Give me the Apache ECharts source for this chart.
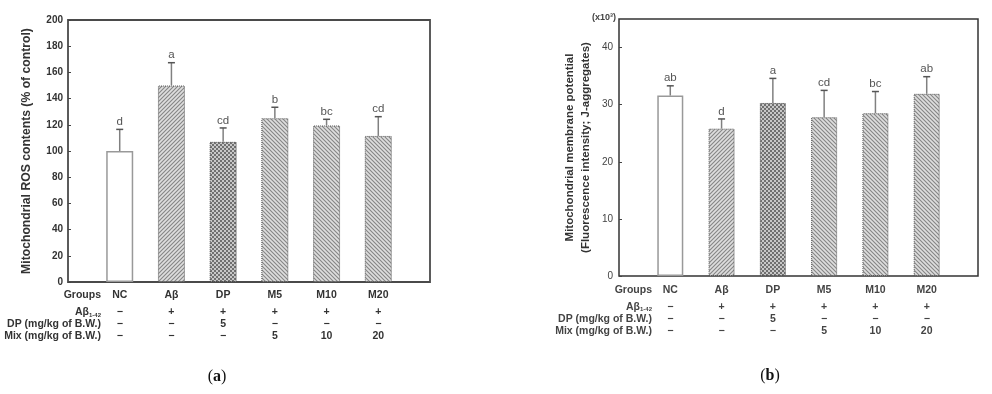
<!DOCTYPE html>
<html>
<head>
<meta charset="utf-8">
<script src="https://cdn.jsdelivr.net/npm/echarts@6/dist/echarts.min.js"></script>
<style>
html,body{margin:0;padding:0;background:#fff;}
#c{width:992px;height:394px;}
</style>
</head>
<body>
<div id="c"></div>
<script>
// ---- data ----
const groups = ['NC', 'Aβ', 'DP', 'M5', 'M10', 'M20'];
const rowAbeta = ['−', '+', '+', '+', '+', '+'];
const rowDP = ['−', '−', '5', '−', '−', '−'];
const rowMix = ['−', '−', '−', '5', '10', '20'];
const rowHeaders = ['Groups', 'Aβ1-42', 'DP (mg/kg of B.W.)', 'Mix (mg/kg of B.W.)'];

const rosMean = [100, 150, 107, 125, 119.5, 111.5];
const rosErr = [16.5, 17.4, 10.6, 8.4, 4.7, 14.7];
const rosLetters = ['d', 'a', 'cd', 'b', 'bc', 'cd'];
const rosTicks = [0, 200, 20];

const mmpMean = [31.6, 25.8, 30.3, 27.8, 28.5, 31.9];
const mmpErr = [1.7, 1.7, 4.3, 4.7, 3.8, 3.0];
const mmpLetters = ['ab', 'd', 'a', 'cd', 'bc', 'ab'];
const mmpTicks = [0, 45, 10];

// ---- patterns ----
function hatch(dir) {
  const s = 4, c = document.createElement('canvas');
  c.width = s; c.height = s;
  const g = c.getContext('2d');
  g.fillStyle = '#dedede'; g.fillRect(0, 0, s, s);
  g.strokeStyle = '#858585'; g.lineWidth = 1.1;
  g.beginPath();
  if (dir === '/') {
    g.moveTo(-1, s + 1); g.lineTo(s + 1, -1);
    g.moveTo(-1, 1); g.lineTo(1, -1);
    g.moveTo(s - 1, s + 1); g.lineTo(s + 1, s - 1);
  } else {
    g.moveTo(-1, -1); g.lineTo(s + 1, s + 1);
    g.moveTo(s - 1, -1); g.lineTo(s + 1, 1);
    g.moveTo(-1, s - 1); g.lineTo(1, s + 1);
  }
  g.stroke();
  return { image: c, repeat: 'repeat' };
}
function checker() {
  const c = document.createElement('canvas');
  c.width = 4; c.height = 4;
  const g = c.getContext('2d');
  g.fillStyle = '#c8c8c8'; g.fillRect(0, 0, 4, 4);
  g.fillStyle = '#707070'; g.fillRect(0, 0, 2, 2); g.fillRect(2, 2, 2, 2);
  return { image: c, repeat: 'repeat' };
}
const fwd = hatch('/'), back = hatch('\\'), chk = checker();
const barStyles = [
  { color: '#fff', borderColor: '#999', borderWidth: 1.5 },
  { color: fwd, borderColor: '#555', borderWidth: 1, borderType: 'dotted' },
  { color: chk, borderColor: '#444', borderWidth: 1, borderType: 'dotted' },
  { color: back, borderColor: '#555', borderWidth: 1, borderType: 'dotted' },
  { color: back, borderColor: '#555', borderWidth: 1, borderType: 'dotted' },
  { color: back, borderColor: '#555', borderWidth: 1, borderType: 'dotted' }
];

const FONT = 'Liberation Sans';
const pad = arr => [''].concat(arr, ['']);

function tableAxes(gi, offsets, gap, color) {
  const rows = [groups, rowAbeta, rowDP, rowMix];
  return rows.map((r, k) => ({
    gridIndex: gi, type: 'category', data: pad(r), boundaryGap: false,
    position: 'bottom', offset: offsets[k],
    axisLine: { show: false }, axisTick: { show: false },
    axisLabel: { interval: 0, margin: 0, verticalAlign: 'middle', fontFamily: FONT,
      fontSize: 10.5, fontWeight: 'bold', color: color },
    name: k === 1 ? '{n|Aβ}{s|1-42}' : rowHeaders[k],
    nameLocation: 'start', nameGap: gap, nameMoveOverlap: false,
    nameTextStyle: { fontFamily: FONT, fontSize: 10.5, fontWeight: 'bold', color: color,
      align: 'right', verticalAlign: 'middle',
      rich: { n: { fontFamily: FONT, fontSize: 10.5, fontWeight: 'bold', color: color },
              s: { fontFamily: FONT, fontSize: 6, fontWeight: 'bold', color: color, padding: [5, 0, 0, 0] } } }
  }));
}

function errSeries(xi, yi, mean, err, letters) {
  return {
    type: 'custom', xAxisIndex: xi, yAxisIndex: yi, z: 5,
    data: mean.map((m, k) => [k + 1, m, err[k]]),
    renderItem(params, api) {
      const i = api.value(0), m = api.value(1), e = api.value(2);
      const b = api.coord([i, m]), t = api.coord([i, m + e]);
      const x = b[0];
      return { type: 'group', children: [
        { type: 'line', shape: { x1: x, y1: b[1], x2: x, y2: t[1] }, style: { stroke: '#808080', lineWidth: 1.5 } },
        { type: 'line', shape: { x1: x - 3.5, y1: t[1], x2: x + 3.5, y2: t[1] }, style: { stroke: '#555', lineWidth: 1.5 } },
        { type: 'text', style: { text: letters[params.dataIndex], x: x, y: t[1] - 1.5,
          textAlign: 'center', textVerticalAlign: 'bottom', fill: '#555', font: '11.5px ' + FONT } }
      ] };
    }
  };
}

function barSeries(xi, yi, mean, w) {
  return {
    type: 'bar', xAxisIndex: xi, yAxisIndex: yi, barWidth: w, z: 2,
    data: ['-'].concat(mean.map((v, k) => ({ value: v, itemStyle: barStyles[k] })), ['-'])
  };
}

const chart = echarts.init(document.getElementById('c'), null, { renderer: 'canvas' });
const xAxes = [
  { gridIndex: 0, type: 'category', data: pad(groups), boundaryGap: false, axisLine: { show: false },
    axisTick: { show: false }, axisLabel: { show: false } },
  ...tableAxes(0, [13, 30.5, 42, 53.7], -33, '#333'),
  { gridIndex: 1, type: 'category', data: pad(groups), boundaryGap: false, axisLine: { show: false },
    axisTick: { show: false }, axisLabel: { show: false } },
  ...tableAxes(1, [14.3, 31, 43.3, 55], -33, '#444')
];

chart.setOption({
  animation: false,
  backgroundColor: '#fff',
  grid: [
    { left: 68, top: 20, width: 362, height: 262, show: true, borderColor: '#4a4a4a', borderWidth: 1.8,
      backgroundColor: 'transparent', containLabel: false, outerBoundsMode: 'none' },
    { left: 619, top: 19, width: 359, height: 257, show: true, borderColor: '#333', borderWidth: 1.5,
      backgroundColor: 'transparent', containLabel: false, outerBoundsMode: 'none' }
  ],
  xAxis: xAxes,
  yAxis: [
    { gridIndex: 0, type: 'value', min: rosTicks[0], max: rosTicks[1], interval: rosTicks[2],
      axisLine: { show: false }, splitLine: { show: false },
      axisTick: { show: true, inside: true, length: 3, lineStyle: { color: '#444' } },
      axisLabel: { margin: 5, fontFamily: FONT, fontSize: 10, fontWeight: 'bold', color: '#333' },
      name: 'Mitochondrial ROS contents (% of control)', nameLocation: 'middle', nameGap: 35,
      nameTextStyle: { fontFamily: FONT, fontSize: 12.2, fontWeight: 'bold', color: '#333' } },
    { gridIndex: 1, type: 'value', min: mmpTicks[0], max: mmpTicks[1], interval: mmpTicks[2],
      axisLine: { show: false }, splitLine: { show: false },
      axisTick: { show: true, inside: true, length: 3, lineStyle: { color: '#444' } },
      axisLabel: { margin: 6, showMaxLabel: false, fontFamily: FONT, fontSize: 10, color: '#444' },
      name: 'Mitochondrial membrane potential\n(Fluorescence intensity; J-aggregates)',
      nameLocation: 'middle', nameGap: 25,
      nameTextStyle: { fontFamily: FONT, fontSize: 11.5, fontWeight: 'bold', color: '#333', lineHeight: 16 } }
  ],
  series: [
    barSeries(0, 0, rosMean, 27),
    errSeries(0, 0, rosMean, rosErr, rosLetters),
    barSeries(5, 1, mmpMean, 26),
    errSeries(5, 1, mmpMean, mmpErr, mmpLetters)
  ],
  graphic: [
    { type: 'text', x: 217, y: 377, style: { text: '{p|(}{b|a}{p|)}', textAlign: 'center', textVerticalAlign: 'middle',
      rich: { p: { fontFamily: 'Liberation Serif', fontSize: 16, fill: '#111' },
              b: { fontFamily: 'Liberation Serif', fontSize: 16, fontWeight: 'bold', fill: '#111' } } } },
    { type: 'text', x: 770, y: 376, style: { text: '{p|(}{b|b}{p|)}', textAlign: 'center', textVerticalAlign: 'middle',
      rich: { p: { fontFamily: 'Liberation Serif', fontSize: 16, fill: '#111' },
              b: { fontFamily: 'Liberation Serif', fontSize: 16, fontWeight: 'bold', fill: '#111' } } } },
    { type: 'text', x: 604, y: 18, style: { text: '(x10³)', textAlign: 'center', textVerticalAlign: 'middle',
      font: 'bold 9px ' + FONT, fill: '#444' } }
  ]
});
</script>
</body>
</html>
